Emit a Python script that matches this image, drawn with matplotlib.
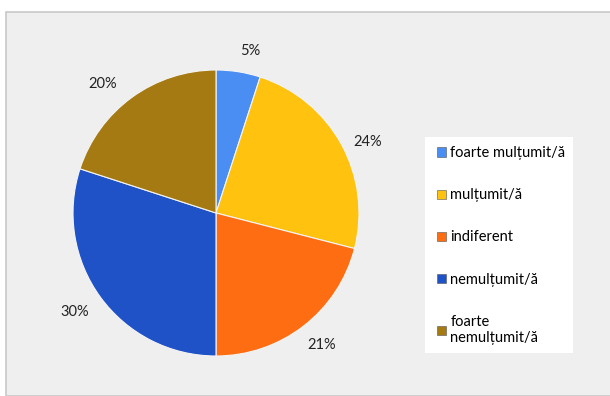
import matplotlib.pyplot as plt
from matplotlib.patches import Rectangle, Patch

categories = ["foarte mulțumit/ă", "mulțumit/ă", "indiferent", "nemulțumit/ă", "foarte\nnemulțumit/ă"]
values = [5, 24, 21, 30, 20]
colors = ["#4a8df3", "#ffc20f", "#ff6d12", "#1e52c6", "#a57a12"]
# where Excel put each percent label (pie radius = 1)
label_pos = [(0.24, 1.13), (1.06, 0.50), (0.74, -0.92), (-0.99, -0.69), (-0.79, 0.90)]

plt.rcParams["font.family"] = ["Lato", "DejaVu Sans"]

fig = plt.figure(figsize=(6.1, 3.96), dpi=100)
fig.patch.set_facecolor("white")

# chart area background
fig.patches.append(Rectangle((6 / 610, 0), 1, 1 - 12 / 396, transform=fig.transFigure,
                             facecolor="#efefef", edgecolor="#c8c8c8", linewidth=1.2, zorder=-2))

# legend box
fig.patches.append(Rectangle((425 / 610, 1 - 353 / 396), 148 / 610, 216 / 396,
                             transform=fig.transFigure, facecolor="white",
                             edgecolor="none", zorder=-1))

ax = fig.add_axes([73 / 610, 40 / 396, 286 / 610, 286 / 396])
ax.set_zorder(3)
ax.set_facecolor("none")
wedges, texts = ax.pie(values, colors=colors, startangle=90, counterclock=False,
                       labels=[f"{v}%" for v in values], labeldistance=1.17,
                       wedgeprops=dict(edgecolor="#f4f4f4", linewidth=0.8),
                       textprops=dict(fontsize=10.5, color="#222222"))
ax.set_xlim(-1, 1)
ax.set_ylim(-1, 1)
ax.set_aspect("equal")
for t, p in zip(texts, label_pos):
    t.set_position(p)
    t.set_ha("center")
    t.set_va("center")

handles = [Patch(facecolor=c, edgecolor="#555555", linewidth=0.4) for c in colors]
leg = fig.legend(handles, categories, loc="upper left",
                 bbox_to_anchor=(427 / 610, 1 - 136 / 396), frameon=False,
                 fontsize=10.5, labelspacing=1.93, handlelength=0.6, handleheight=0.6,
                 handletextpad=0.3, borderpad=0.2)
leg.set_zorder(4)

fig.savefig("out.png", dpi=100)
